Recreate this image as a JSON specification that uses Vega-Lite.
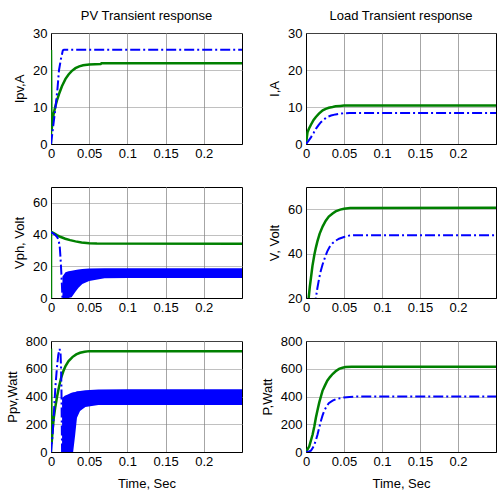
{
  "$schema": "https://vega.github.io/schema/vega-lite/v6.json",
  "background": "white",
  "padding": {"left": 5, "top": 9, "right": 0, "bottom": 0},
  "bounds": "flush",
  "columns": 2,
  "spacing": {"row": 43, "column": 64},
  "concat": [
    {
      "width": 191, "height": 111,
      "title": "PV Transient response",
      "data": {"values": [
        {"s":"g","t":0,"v":0},{"s":"g","t":0,"v":25.4},{"s":"g","t":0.0006,"v":3.5},{"s":"g","t":0.002,"v":6},{"s":"g","t":0.0035,"v":8.2},{"s":"g","t":0.0055,"v":10},{"s":"g","t":0.0078,"v":11.8},{"s":"g","t":0.011,"v":13.8},{"s":"g","t":0.0143,"v":15.6},{"s":"g","t":0.019,"v":17.6},{"s":"g","t":0.023,"v":18.8},{"s":"g","t":0.027,"v":19.7},{"s":"g","t":0.032,"v":20.5},{"s":"g","t":0.037,"v":21.0},{"s":"g","t":0.042,"v":21.3},{"s":"g","t":0.05,"v":21.5},{"s":"g","t":0.065,"v":21.6},{"s":"g","t":0.066,"v":21.8},{"s":"g","t":0.25,"v":21.8},
        {"s":"b","t":0,"v":0},{"s":"b","t":0.003,"v":5},{"s":"b","t":0.006,"v":10},{"s":"b","t":0.0085,"v":15},{"s":"b","t":0.0105,"v":20},{"s":"b","t":0.013,"v":23},{"s":"b","t":0.0155,"v":25.3},{"s":"b","t":0.017,"v":25.5},{"s":"b","t":0.25,"v":25.5}
      ]},
      "encoding": {
        "x": {"field":"t","type":"quantitative","scale":{"domain":[0,0.25]},"axis":{"title":null,"values":[0,0.05,0.1,0.15,0.2],"format":"~g"}},
        "y": {"field":"v","type":"quantitative","scale":{"domain":[0,30]},"axis":{"title":"Ipv,A","values":[0,10,20,30]}},
        "order": {"value": null}
      },
      "layer": [
        {"transform":[{"filter":"datum.s=='g'"}],"mark":{"type":"line","color":"#008000","strokeWidth":2.5,"clip":true}},
        {"transform":[{"filter":"datum.s=='b'"}],"mark":{"type":"line","color":"#0000ff","strokeWidth":2,"strokeDash":[10,3,2,3],"clip":true}}
      ]
    },
    {
      "width": 190, "height": 111,
      "title": "Load Transient response",
      "data": {"values": [
        {"s":"g","t":0,"v":0},{"s":"g","t":0.002,"v":3.2},{"s":"g","t":0.004,"v":4.2},{"s":"g","t":0.0065,"v":5.2},{"s":"g","t":0.01,"v":6.5},{"s":"g","t":0.013,"v":7.3},{"s":"g","t":0.017,"v":8.2},{"s":"g","t":0.022,"v":9.1},{"s":"g","t":0.026,"v":9.5},{"s":"g","t":0.03,"v":9.8},{"s":"g","t":0.035,"v":10.0},{"s":"g","t":0.039,"v":10.2},{"s":"g","t":0.045,"v":10.3},{"s":"g","t":0.05,"v":10.4},{"s":"g","t":0.25,"v":10.4},
        {"s":"b","t":0,"v":0},{"s":"b","t":0.003,"v":0.8},{"s":"b","t":0.0065,"v":1.8},{"s":"b","t":0.01,"v":3.0},{"s":"b","t":0.013,"v":4.1},{"s":"b","t":0.0165,"v":5.1},{"s":"b","t":0.0196,"v":5.9},{"s":"b","t":0.024,"v":6.7},{"s":"b","t":0.028,"v":7.3},{"s":"b","t":0.033,"v":7.7},{"s":"b","t":0.039,"v":8.0},{"s":"b","t":0.045,"v":8.2},{"s":"b","t":0.05,"v":8.3},{"s":"b","t":0.057,"v":8.4},{"s":"b","t":0.25,"v":8.4}
      ]},
      "encoding": {
        "x": {"field":"t","type":"quantitative","scale":{"domain":[0,0.25]},"axis":{"title":null,"values":[0,0.05,0.1,0.15,0.2],"format":"~g"}},
        "y": {"field":"v","type":"quantitative","scale":{"domain":[0,30]},"axis":{"title":"I,A","values":[0,10,20,30]}},
        "order": {"value": null}
      },
      "layer": [
        {"transform":[{"filter":"datum.s=='g'"}],"mark":{"type":"line","color":"#008000","strokeWidth":2.5,"clip":true}},
        {"transform":[{"filter":"datum.s=='b'"}],"mark":{"type":"line","color":"#0000ff","strokeWidth":2,"strokeDash":[10,3,2,3],"clip":true}}
      ]
    },
    {
      "width": 191, "height": 111,
      "data": {"values": [
        {"s":"g","t":0,"v":0},{"s":"g","t":0,"v":41.8},{"s":"g","t":0.004,"v":40.8},{"s":"g","t":0.0078,"v":39.7},{"s":"g","t":0.012,"v":38.6},{"s":"g","t":0.0187,"v":37.4},{"s":"g","t":0.025,"v":36.5},{"s":"g","t":0.032,"v":35.7},{"s":"g","t":0.04,"v":35.0},{"s":"g","t":0.05,"v":34.5},{"s":"g","t":0.06,"v":34.3},{"s":"g","t":0.25,"v":34.2},
        {"s":"b","t":0,"v":41.5},{"s":"b","t":0.005,"v":40},{"s":"b","t":0.008,"v":38.5},{"s":"b","t":0.01,"v":36.5},{"s":"b","t":0.0115,"v":32},{"s":"b","t":0.0125,"v":25},{"s":"b","t":0.0135,"v":16},{"s":"b","t":0.0143,"v":8},{"s":"b","t":0.015,"v":0},
        {"s":"band","t":0.015,"v":0,"v2":13.5},{"s":"band","t":0.019,"v":0,"v2":16.2},{"s":"band","t":0.023,"v":0,"v2":16.8},{"s":"band","t":0.027,"v":0.5,"v2":17.2},{"s":"band","t":0.032,"v":4,"v2":17.6},{"s":"band","t":0.036,"v":6.5,"v2":18},{"s":"band","t":0.041,"v":8.8,"v2":18.3},{"s":"band","t":0.05,"v":10.7,"v2":18.6},{"s":"band","t":0.07,"v":12.4,"v2":18.8},{"s":"band","t":0.1,"v":12.6,"v2":18.8},{"s":"band","t":0.25,"v":12.6,"v2":18.8}
      ]},
      "encoding": {
        "x": {"field":"t","type":"quantitative","scale":{"domain":[0,0.25]},"axis":{"title":null,"values":[0,0.05,0.1,0.15,0.2],"format":"~g"}},
        "y": {"field":"v","type":"quantitative","scale":{"domain":[0,70]},"axis":{"title":"Vph,  Volt","values":[0,20,40,60]}},
        "order": {"value": null}
      },
      "layer": [
        {"transform":[{"filter":"datum.s=='band'"}],"mark":{"type":"area","color":"#0000ff","opacity":1,"clip":true},"encoding":{"y2":{"field":"v2"}}},
        {"transform":[{"filter":"datum.s=='g'"}],"mark":{"type":"line","color":"#008000","strokeWidth":2.5,"clip":true}},
        {"transform":[{"filter":"datum.s=='b'"}],"mark":{"type":"line","color":"#0000ff","strokeWidth":2,"strokeDash":[10,3,2,3],"clip":true}}
      ]
    },
    {
      "width": 190, "height": 111,
      "data": {"values": [
        {"s":"g","t":0,"v":0},{"s":"g","t":0.002,"v":10},{"s":"g","t":0.0035,"v":20},{"s":"g","t":0.005,"v":25},{"s":"g","t":0.0065,"v":29},{"s":"g","t":0.0085,"v":34.5},{"s":"g","t":0.011,"v":39.5},{"s":"g","t":0.013,"v":42.7},{"s":"g","t":0.015,"v":45.5},{"s":"g","t":0.018,"v":49},{"s":"g","t":0.022,"v":52.3},{"s":"g","t":0.026,"v":54.8},{"s":"g","t":0.03,"v":56.7},{"s":"g","t":0.035,"v":58.1},{"s":"g","t":0.039,"v":59},{"s":"g","t":0.045,"v":59.8},{"s":"g","t":0.05,"v":60.2},{"s":"g","t":0.058,"v":60.5},{"s":"g","t":0.25,"v":60.6},
        {"s":"b","t":0,"v":0},{"s":"b","t":0.008,"v":8},{"s":"b","t":0.013,"v":20},{"s":"b","t":0.015,"v":24.5},{"s":"b","t":0.0174,"v":29},{"s":"b","t":0.0195,"v":32.3},{"s":"b","t":0.0217,"v":35},{"s":"b","t":0.025,"v":38.3},{"s":"b","t":0.028,"v":41},{"s":"b","t":0.031,"v":43},{"s":"b","t":0.035,"v":44.7},{"s":"b","t":0.039,"v":45.8},{"s":"b","t":0.0435,"v":46.7},{"s":"b","t":0.05,"v":47.5},{"s":"b","t":0.0565,"v":48.1},{"s":"b","t":0.065,"v":48.3},{"s":"b","t":0.25,"v":48.3}
      ]},
      "encoding": {
        "x": {"field":"t","type":"quantitative","scale":{"domain":[0,0.25]},"axis":{"title":null,"values":[0,0.05,0.1,0.15,0.2],"format":"~g"}},
        "y": {"field":"v","type":"quantitative","scale":{"domain":[20,70]},"axis":{"title":"V,  Volt","values":[20,40,60]}},
        "order": {"value": null}
      },
      "layer": [
        {"transform":[{"filter":"datum.s=='g'"}],"mark":{"type":"line","color":"#008000","strokeWidth":2.5,"clip":true}},
        {"transform":[{"filter":"datum.s=='b'"}],"mark":{"type":"line","color":"#0000ff","strokeWidth":2,"strokeDash":[10,3,2,3],"clip":true}}
      ]
    },
    {
      "width": 191, "height": 111,
      "data": {"values": [
        {"s":"g","t":0,"v":0},{"s":"g","t":0,"v":745},{"s":"g","t":0.0008,"v":60},{"s":"g","t":0.002,"v":150},{"s":"g","t":0.0035,"v":240},{"s":"g","t":0.0055,"v":320},{"s":"g","t":0.0078,"v":395},{"s":"g","t":0.0105,"v":470},{"s":"g","t":0.013,"v":530},{"s":"g","t":0.016,"v":580},{"s":"g","t":0.019,"v":620},{"s":"g","t":0.023,"v":655},{"s":"g","t":0.028,"v":684},{"s":"g","t":0.033,"v":703},{"s":"g","t":0.038,"v":715},{"s":"g","t":0.044,"v":723},{"s":"g","t":0.05,"v":727},{"s":"g","t":0.25,"v":727},
        {"s":"b","t":0,"v":0},{"s":"b","t":0.002,"v":120},{"s":"b","t":0.004,"v":300},{"s":"b","t":0.0057,"v":465},{"s":"b","t":0.0078,"v":611},{"s":"b","t":0.0095,"v":700},{"s":"b","t":0.0113,"v":742},{"s":"b","t":0.0125,"v":710},{"s":"b","t":0.0132,"v":600},{"s":"b","t":0.0137,"v":450},{"s":"b","t":0.014,"v":250},{"s":"b","t":0.0145,"v":0},
        {"s":"band","t":0.0145,"v":0,"v2":390},{"s":"band","t":0.018,"v":0,"v2":405},{"s":"band","t":0.022,"v":0,"v2":415},{"s":"band","t":0.026,"v":0,"v2":425},{"s":"band","t":0.029,"v":0,"v2":430},{"s":"band","t":0.0317,"v":126,"v2":433},{"s":"band","t":0.034,"v":247,"v2":437},{"s":"band","t":0.038,"v":296,"v2":440},{"s":"band","t":0.045,"v":325,"v2":445},{"s":"band","t":0.062,"v":338,"v2":450},{"s":"band","t":0.1,"v":338,"v2":452},{"s":"band","t":0.25,"v":338,"v2":452}
      ]},
      "encoding": {
        "x": {"field":"t","type":"quantitative","scale":{"domain":[0,0.25]},"axis":{"title":"Time, Sec","values":[0,0.05,0.1,0.15,0.2],"format":"~g"}},
        "y": {"field":"v","type":"quantitative","scale":{"domain":[0,800]},"axis":{"title":"Ppv,Watt","values":[0,200,400,600,800]}},
        "order": {"value": null}
      },
      "layer": [
        {"transform":[{"filter":"datum.s=='band'"}],"mark":{"type":"area","color":"#0000ff","opacity":1,"clip":true},"encoding":{"y2":{"field":"v2"}}},
        {"transform":[{"filter":"datum.s=='g'"}],"mark":{"type":"line","color":"#008000","strokeWidth":2.5,"clip":true}},
        {"transform":[{"filter":"datum.s=='b'"}],"mark":{"type":"line","color":"#0000ff","strokeWidth":2,"strokeDash":[10,3,2,3],"clip":true}}
      ]
    },
    {
      "width": 190, "height": 111,
      "data": {"values": [
        {"s":"g","t":0,"v":0},{"s":"g","t":0.0043,"v":41},{"s":"g","t":0.0087,"v":126},{"s":"g","t":0.011,"v":185},{"s":"g","t":0.013,"v":247},{"s":"g","t":0.0152,"v":302},{"s":"g","t":0.0174,"v":356},{"s":"g","t":0.0196,"v":400},{"s":"g","t":0.0217,"v":441},{"s":"g","t":0.025,"v":480},{"s":"g","t":0.028,"v":514},{"s":"g","t":0.0315,"v":540},{"s":"g","t":0.035,"v":562},{"s":"g","t":0.039,"v":582},{"s":"g","t":0.0435,"v":599},{"s":"g","t":0.048,"v":607},{"s":"g","t":0.052,"v":612},{"s":"g","t":0.06,"v":615},{"s":"g","t":0.25,"v":615},
        {"s":"b","t":0,"v":0},{"s":"b","t":0.004,"v":4},{"s":"b","t":0.0065,"v":10},{"s":"b","t":0.009,"v":30},{"s":"b","t":0.011,"v":53},{"s":"b","t":0.013,"v":85},{"s":"b","t":0.0152,"v":126},{"s":"b","t":0.0174,"v":175},{"s":"b","t":0.0196,"v":223},{"s":"b","t":0.0217,"v":262},{"s":"b","t":0.0239,"v":296},{"s":"b","t":0.027,"v":328},{"s":"b","t":0.03,"v":352},{"s":"b","t":0.035,"v":370},{"s":"b","t":0.039,"v":380},{"s":"b","t":0.045,"v":388},{"s":"b","t":0.05,"v":393},{"s":"b","t":0.057,"v":397},{"s":"b","t":0.065,"v":400},{"s":"b","t":0.25,"v":400}
      ]},
      "encoding": {
        "x": {"field":"t","type":"quantitative","scale":{"domain":[0,0.25]},"axis":{"title":"Time, Sec","values":[0,0.05,0.1,0.15,0.2],"format":"~g"}},
        "y": {"field":"v","type":"quantitative","scale":{"domain":[0,800]},"axis":{"title":"P,Watt","values":[0,200,400,600,800]}},
        "order": {"value": null}
      },
      "layer": [
        {"transform":[{"filter":"datum.s=='g'"}],"mark":{"type":"line","color":"#008000","strokeWidth":2.5,"clip":true}},
        {"transform":[{"filter":"datum.s=='b'"}],"mark":{"type":"line","color":"#0000ff","strokeWidth":2,"strokeDash":[10,3,2,3],"clip":true}}
      ]
    }
  ],
  "config": {
    "font": "Liberation Sans",
    "view": {"stroke": "black", "strokeWidth": 1},
    "axis": {"domainColor": "black", "domainWidth": 1, "labelColor": "black", "labelFontSize": 13, "titleFontSize": 13, "titleFontWeight": "normal", "titleColor": "black", "ticks": false, "labelPadding": 4, "labelFlush": false, "labelOverlap": false, "gridOpacity": 1},
    "axisX": {"gridColor": "#a6a6a6", "gridWidth": 1, "labelPadding": 3, "titlePadding": 9},
    "axisY": {"gridColor": "#808080", "gridDash": [1, 1], "titlePadding": 6},
    "title": {"fontSize": 13, "fontWeight": "normal", "color": "black", "offset": 4}
  }
}
